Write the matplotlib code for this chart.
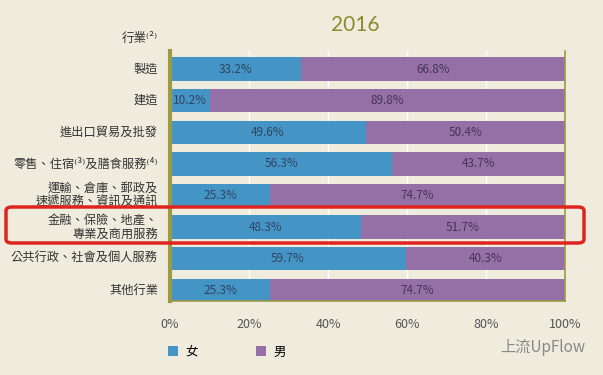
import numpy as np
import matplotlib.pyplot as plt
from matplotlib.patches import Patch, FancyBboxPatch
from matplotlib.transforms import blended_transform_factory

plt.rcParams['font.family'] = ['Noto Sans CJK TC', 'DejaVu Sans']

# --- Dữ liệu ---
industries = [
    "製造",
    "建造",
    "進出口貿易及批發",
    "零售、住宿⁽³⁾及膳食服務⁽⁴⁾",
    "運輸、倉庫、郵政及\n速遞服務、資訊及通訊",
    "金融、保險、地產、\n專業及商用服務",
    "公共行政、社會及個人服務",
    "其他行業",
]
female = [33.2, 10.2, 49.6, 56.3, 25.3, 48.3, 59.7, 25.3]
male = [66.8, 89.8, 50.4, 43.7, 74.7, 51.7, 40.3, 74.7]
xticks = [0, 20, 40, 60, 80, 100]
xticklabels = ["0%", "20%", "40%", "60%", "80%", "100%"]

BG = "#f0ecdd"
BLUE = "#4594c6"
PURPLE = "#9470a6"
OLIVE = "#9c9a45"

fig = plt.figure(figsize=(6.03, 3.75), dpi=100, facecolor=BG)
ax = fig.add_axes([170 / 603, 1 - 301 / 375, 395 / 603, 250 / 375])
ax.set_facecolor(BG)

y = np.arange(len(industries))
ax.barh(y, female, height=0.74, color=BLUE, zorder=2)
ax.barh(y, male, left=female, height=0.74, color=PURPLE, zorder=2)

for i in range(len(industries)):
    ax.text(female[i] / 2, y[i], f"{female[i]}%", ha="center", va="center",
            fontsize=8.5, color="#2f4560", zorder=3)
    ax.text(female[i] + male[i] / 2, y[i], f"{male[i]}%", ha="center", va="center",
            fontsize=8.5, color="#473555", zorder=3)

ax.set_xlim(0, 100)
ax.set_ylim(7.34, -0.57)
ax.set_yticks(y)
ax.set_yticklabels([])
# Nhãn ngành vẽ tay để xuống dòng gọn
trans = blended_transform_factory(ax.transAxes, ax.transData)
for i, name in enumerate(industries):
    ax.text(-12 / 395, y[i], name, transform=trans, ha="right", va="center",
            fontsize=8.8, color="#333333", linespacing=1.15, multialignment="right")
ax.set_xticks(xticks)
ax.set_xticklabels(xticklabels, fontsize=9, color="#555555")
ax.tick_params(axis="x", length=0, pad=12)
ax.tick_params(axis="y", length=0)

ax.grid(axis="x", color="#ffffff", linewidth=1, zorder=1)
ax.spines["top"].set_visible(False)
ax.spines["left"].set_color(OLIVE)
ax.spines["left"].set_linewidth(3)
ax.spines["bottom"].set_color(OLIVE)
ax.spines["bottom"].set_linewidth(1.2)
ax.spines["right"].set_color(OLIVE)
ax.spines["right"].set_linewidth(1.2)

# Tiêu đề & nhãn trục
fig.text(355 / 603, 1 - 25 / 375, "2016", ha="center", va="center",
         fontsize=15, color="#8c8a2c", family="Lato")
fig.text(158 / 603, 1 - 38 / 375, "行業⁽²⁾", ha="right", va="center",
         fontsize=9, color="#333333")

# Khung đỏ đánh dấu
rect = FancyBboxPatch((6 / 603, 1 - 243 / 375), 578 / 603, 36 / 375,
                      boxstyle="round,pad=0,rounding_size=0.01",
                      transform=fig.transFigure, fill=False,
                      edgecolor="#e0231f", linewidth=2.5, zorder=10)
fig.patches.append(rect)

# Chú thích
handles = [Patch(facecolor=BLUE, label="女"), Patch(facecolor=PURPLE, label="男")]
fig.legend(handles=handles, loc="center left", bbox_to_anchor=(157 / 603, 1 - 352 / 375),
           ncol=2, frameon=False, fontsize=9, handlelength=0.8, handleheight=0.8,
           handletextpad=0.6, columnspacing=4.6)

# Watermark
fig.text(585 / 603, 1 - 348 / 375, "上流UpFlow", ha="right", va="center",
         fontsize=11, color="#888888")

plt.savefig("out.png", dpi=100, facecolor=BG)
